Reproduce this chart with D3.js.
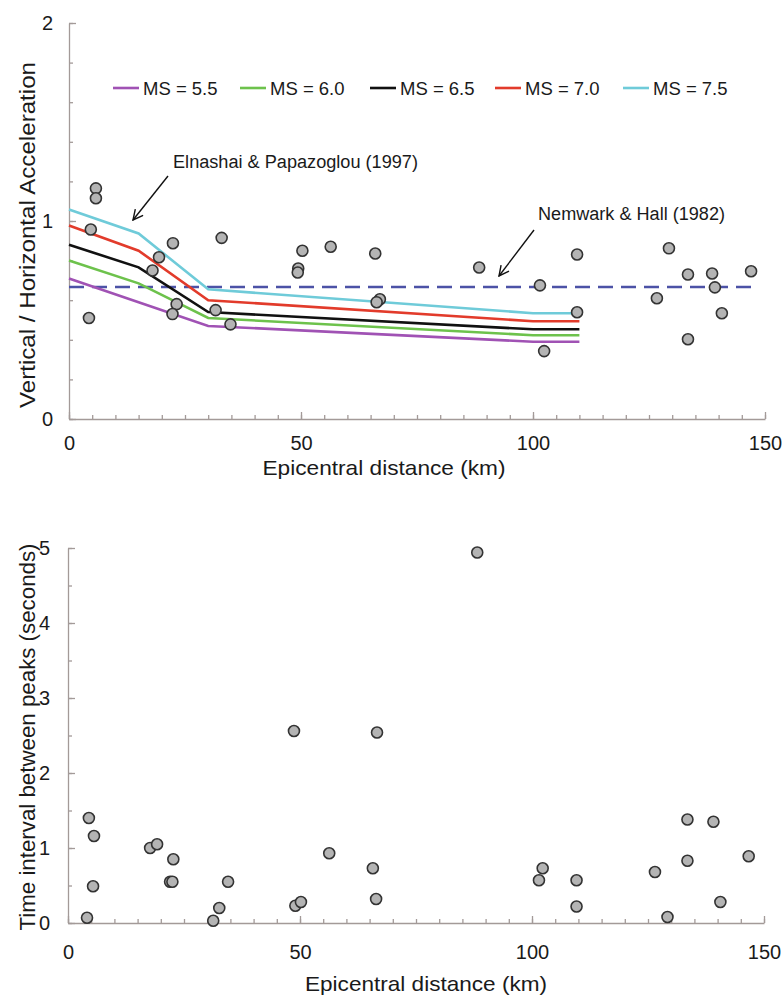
<!DOCTYPE html>
<html>
<head>
<meta charset="utf-8">
<script src="https://cdn.jsdelivr.net/npm/d3@7"></script>
<style>
  body { margin: 0; background: #fff; }
  svg text { font-family: "Liberation Sans", Arial, sans-serif; fill: #1a1a1a; }
  .axis path, .axis line { stroke: #a39a98; stroke-width: 1.3; }
  .axis text { font-size: 20px; fill: #1a1a1a; }
</style>
</head>
<body>
<svg id="chart" width="783" height="1002"></svg>
<script>
// ---- data ----
var curveDist = [0, 15, 30, 100, 110];
var ms55 = [0.71, 0.59, 0.47, 0.39, 0.39];
var ms60 = [0.80, 0.685, 0.51, 0.423, 0.423];
var ms65 = [0.88, 0.766, 0.54, 0.453, 0.453];
var ms70 = [0.977, 0.85, 0.60, 0.494, 0.494];
var ms75 = [1.058, 0.937, 0.655, 0.534, 0.534];
var msLabels = ["MS = 5.5", "MS = 6.0", "MS = 6.5", "MS = 7.0", "MS = 7.5"];
var msColors = ["#a052b4", "#6dc24c", "#111111", "#e23b2b", "#6fcbd9"];

var newmarkRatio = 0.667;
var newmarkRange = [0, 148];

var distTop = [5.8, 5.8, 4.7, 4.3, 22.4, 19.4, 18.0, 23.2, 22.3, 32.9, 31.6, 34.8,
  50.3, 49.4, 49.3, 56.4, 66.0, 67.0, 66.3, 88.4, 101.5, 102.4, 109.5, 109.5,
  126.7, 129.3, 133.4, 133.4, 138.6, 139.2, 140.7, 147.0];
var ratioTop = [1.165, 1.115, 0.957, 0.51, 0.888, 0.817, 0.75, 0.58, 0.53, 0.915, 0.55, 0.478,
  0.85, 0.76, 0.74, 0.87, 0.836, 0.605, 0.59, 0.765, 0.675, 0.343, 0.831, 0.539,
  0.61, 0.862, 0.73, 0.403, 0.735, 0.665, 0.534, 0.746];

var distBot = [4.5, 5.6, 5.4, 4.1, 17.7, 19.2, 22.7, 22.0, 22.5, 31.3, 32.6, 34.5,
  49.0, 50.2, 56.3, 65.7, 66.4, 48.7, 66.6, 88.2, 102.3, 101.5, 109.6, 109.6,
  126.5, 129.2, 133.5, 133.5, 139.1, 140.6, 146.7];
var timeBot = [1.40, 1.16, 0.49, 0.07, 1.0, 1.05, 0.85, 0.55, 0.55, 0.03, 0.2, 0.55,
  0.23, 0.28, 0.93, 0.73, 0.32, 2.56, 2.54, 4.94, 0.73, 0.57, 0.57, 0.22,
  0.68, 0.08, 1.38, 0.83, 1.35, 0.28, 0.89];

var xMajor = [0, 50, 100, 150];
var xMinor = d3.range(0, 151, 5);
var yTopMajor = [0, 1, 2];
var yTopMinor = d3.range(0, 2.01, 0.2);
var yBotMajor = [0, 1, 2, 3, 4, 5];
var yBotMinor = d3.range(0, 5.01, 0.5);

var svg = d3.select("#chart");

svg.append("defs").append("marker")
  .attr("id", "arrow")
  .attr("viewBox", "0 0 12 12")
  .attr("refX", 11).attr("refY", 6)
  .attr("markerWidth", 12).attr("markerHeight", 12)
  .attr("markerUnits", "userSpaceOnUse")
  .attr("orient", "auto")
  .append("path")
  .attr("d", "M1,1 L11,6 L1,11")
  .attr("fill", "none")
  .attr("stroke", "#111")
  .attr("stroke-width", 1.4);

// ---- top panel ----
var xTop = d3.scaleLinear().domain([0, 150]).range([69, 765]);
var yTop = d3.scaleLinear().domain([0, 2]).range([419, 23]);

function drawAxes(x, y, yMajor, yMinor, xPad, yPad) {
  var x0 = x.range()[0], y0 = y.range()[0];

  svg.append("g").attr("class", "axis")
    .attr("transform", "translate(0," + y0 + ")")
    .call(d3.axisBottom(x).tickValues(xMinor).tickSizeInner(-4).tickSizeOuter(0).tickFormat(""));
  svg.append("g").attr("class", "axis")
    .attr("transform", "translate(0," + y0 + ")")
    .call(d3.axisBottom(x).tickValues(xMajor).tickSizeInner(-7).tickSizeOuter(0).tickPadding(xPad))
    .call(function(g) { g.select(".domain").remove(); });

  svg.append("g").attr("class", "axis")
    .attr("transform", "translate(" + x0 + ",0)")
    .call(d3.axisLeft(y).tickValues(yMinor).tickSizeInner(-4).tickSizeOuter(0).tickFormat(""));
  svg.append("g").attr("class", "axis")
    .attr("transform", "translate(" + x0 + ",0)")
    .call(d3.axisLeft(y).tickValues(yMajor).tickSizeInner(-7).tickSizeOuter(0).tickPadding(yPad).tickFormat(d3.format("d")))
    .call(function(g) { g.select(".domain").remove(); });
}

drawAxes(xTop, yTop, yTopMajor, yTopMinor, 17, 16);

// Newmark & Hall reference
svg.append("line")
  .attr("x1", xTop(newmarkRange[0])).attr("x2", xTop(newmarkRange[1]))
  .attr("y1", yTop(newmarkRatio)).attr("y2", yTop(newmarkRatio))
  .attr("stroke", "#4c52a6").attr("stroke-width", 2.6)
  .attr("stroke-dasharray", "15,8");

// Elnashai & Papazoglou curves
var curves = [ms55, ms60, ms65, ms70, ms75];
var line = d3.line()
  .x(function(d, i) { return xTop(curveDist[i]); })
  .y(function(d) { return yTop(d); });

svg.selectAll(".curve")
  .data(curves)
  .enter().append("path")
  .attr("class", "curve")
  .attr("d", line)
  .attr("fill", "none")
  .attr("stroke", function(d, i) { return msColors[i]; })
  .attr("stroke-width", 2.6);

svg.selectAll(".ptTop")
  .data(distTop)
  .enter().append("circle")
  .attr("class", "ptTop")
  .attr("cx", function(d) { return xTop(d); })
  .attr("cy", function(d, i) { return yTop(ratioTop[i]); })
  .attr("r", 5.5)
  .attr("fill", "#b4b4b4")
  .attr("stroke", "#333")
  .attr("stroke-width", 1.6);

// legend
var legendX = [113, 240, 370, 495, 623];
var legend = svg.selectAll(".legend")
  .data(msLabels)
  .enter().append("g")
  .attr("class", "legend")
  .attr("transform", function(d, i) { return "translate(" + legendX[i] + ",88)"; });
legend.append("line")
  .attr("x1", 0).attr("x2", 26)
  .attr("stroke", function(d, i) { return msColors[i]; })
  .attr("stroke-width", 2.6);
legend.append("text")
  .attr("x", 30).attr("dy", "0.36em")
  .style("font-size", "18.5px")
  .text(function(d) { return d; });

// annotations
svg.append("text").attr("x", 173).attr("y", 168)
  .style("font-size", "18px").attr("textLength", 245).attr("lengthAdjust", "spacingAndGlyphs")
  .text("Elnashai & Papazoglou (1997)");
svg.append("line")
  .attr("x1", 168).attr("y1", 176).attr("x2", 133).attr("y2", 220)
  .attr("stroke", "#111").attr("stroke-width", 1.4)
  .attr("marker-end", "url(#arrow)");

svg.append("text").attr("x", 538).attr("y", 220)
  .style("font-size", "18px").attr("textLength", 187).attr("lengthAdjust", "spacingAndGlyphs")
  .text("Nemwark & Hall (1982)");
svg.append("line")
  .attr("x1", 534).attr("y1", 230).attr("x2", 499).attr("y2", 276)
  .attr("stroke", "#111").attr("stroke-width", 1.4)
  .attr("marker-end", "url(#arrow)");

// titles
svg.append("text")
  .attr("transform", "translate(27,235) rotate(-90)")
  .attr("text-anchor", "middle").attr("dy", "0.35em")
  .style("font-size", "22px").attr("textLength", 346).attr("lengthAdjust", "spacingAndGlyphs")
  .text("Vertical / Horizontal Acceleration");
svg.append("text")
  .attr("x", 384).attr("y", 468).attr("dy", "0.35em")
  .attr("text-anchor", "middle")
  .style("font-size", "21px").attr("textLength", 243).attr("lengthAdjust", "spacingAndGlyphs")
  .text("Epicentral distance (km)");

// ---- bottom panel ----
var xBot = d3.scaleLinear().domain([0, 150]).range([68, 764]);
var yBot = d3.scaleLinear().domain([0, 5]).range([923, 548]);

drawAxes(xBot, yBot, yBotMajor, yBotMinor, 22, 18);

svg.selectAll(".ptBot")
  .data(distBot)
  .enter().append("circle")
  .attr("class", "ptBot")
  .attr("cx", function(d) { return xBot(d); })
  .attr("cy", function(d, i) { return yBot(timeBot[i]); })
  .attr("r", 5.5)
  .attr("fill", "#b4b4b4")
  .attr("stroke", "#333")
  .attr("stroke-width", 1.6);

svg.append("text")
  .attr("transform", "translate(27,737) rotate(-90)")
  .attr("text-anchor", "middle").attr("dy", "0.35em")
  .style("font-size", "22px").attr("textLength", 387).attr("lengthAdjust", "spacingAndGlyphs")
  .text("Time interval between peaks (seconds)");
svg.append("text")
  .attr("x", 426).attr("y", 984).attr("dy", "0.35em")
  .attr("text-anchor", "middle")
  .style("font-size", "21px").attr("textLength", 242).attr("lengthAdjust", "spacingAndGlyphs")
  .text("Epicentral distance (km)");
</script>
</body>
</html>
